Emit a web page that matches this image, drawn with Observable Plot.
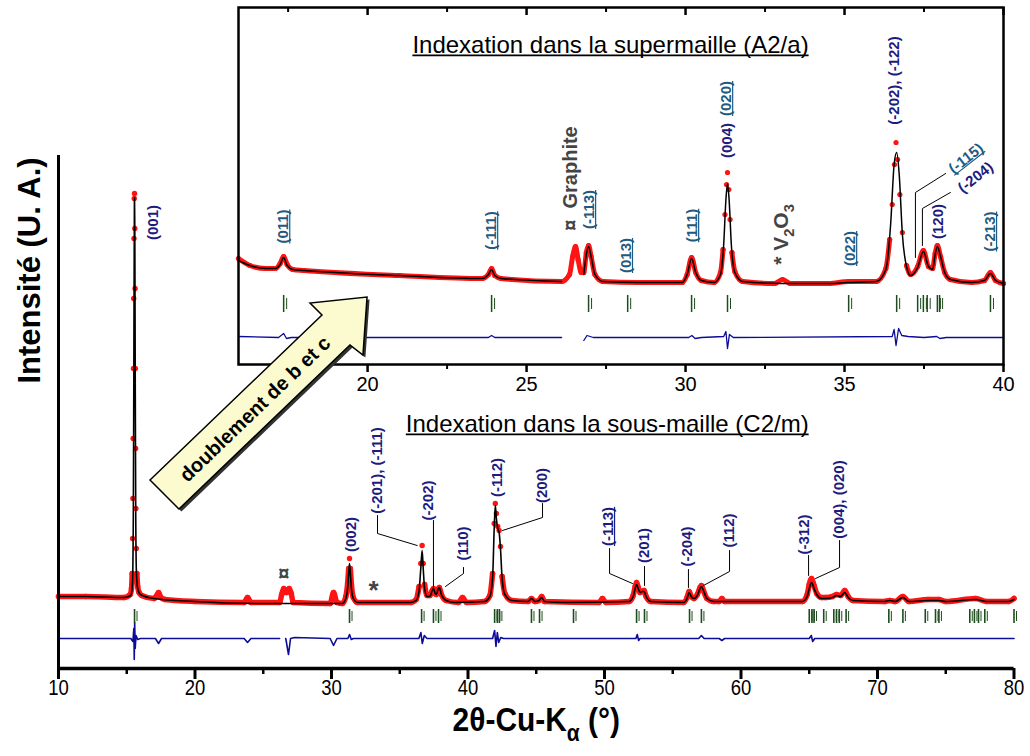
<!DOCTYPE html>
<html><head><meta charset="utf-8">
<script src="https://cdn.jsdelivr.net/npm/d3@7"></script>
<script src="https://cdn.jsdelivr.net/npm/@observablehq/plot@0.6"></script>
<style>
body{margin:0;background:#fff;}
#wrap{position:relative;width:1030px;height:756px;overflow:hidden;}
#wrap svg{position:absolute;left:0;top:0;}
</style></head><body><div id="wrap"></div>
<script>
// ---------- MAIN PATTERN (2θ, intensity a.u.) ----------
const mainObs = [[10,72],[12,72],[14.8,71],[15.25,74],[15.35,80],[15.4,95],[15.43,130],[15.45,170],[15.47,230],[15.49,300],[15.51,370],[15.53,430],[15.55,470],[15.57,475],[15.59,440],[15.61,380],[15.63,300],[15.65,220],[15.67,160],[15.7,120],[15.74,95],[15.8,82],[15.9,76],[16.1,73],[17,70],[17.15,72],[17.33,76],[17.5,71],[17.8,69],[20,67],[23.6,66],[23.85,71],[24.1,66],[26.2,66],[26.35,74],[26.5,80],[26.7,76],[26.9,80],[27.05,75],[27.2,66],[29.9,65],[30.15,76],[30.4,66],[30.8,65],[31.05,72],[31.18,85],[31.26,100],[31.32,110],[31.38,100],[31.46,84],[31.6,71],[31.9,66],[35.8,66],[36.2,69],[36.42,82],[36.54,105],[36.64,123],[36.72,105],[36.82,84],[37,73],[37.2,73],[37.38,78],[37.47,80],[37.6,75],[37.68,74],[37.8,79],[37.9,81],[38.05,74],[38.4,68],[39.3,66],[39.6,71],[39.9,66],[41.2,67],[41.6,73],[41.8,95],[41.92,145],[42,165],[42.08,155],[42.18,142],[42.28,138],[42.38,122],[42.5,92],[42.7,75],[43.2,68],[44.4,67],[44.65,70],[44.9,67],[45.2,68],[45.4,72],[45.6,67],[49.6,66],[49.85,70],[50.1,66],[51.8,67],[52.1,73],[52.25,82],[52.35,86],[52.47,81],[52.6,76],[52.75,77],[52.9,78],[53.05,72],[53.4,67],[55.8,66],[56.05,71],[56.2,77],[56.35,72],[56.55,70],[56.8,74],[57,81],[57.1,83],[57.25,78],[57.5,70],[58,67],[58.4,67],[58.6,70],[58.8,67],[64.5,67],[64.85,74],[65,84],[65.17,90],[65.35,83],[65.55,75],[65.9,71],[66.2,71],[66.7,72],[67,74],[67.3,73],[67.6,78],[67.85,72],[68.2,68],[70.5,67],[70.9,68],[71.3,67],[71.86,72],[72.3,67],[73.7,69],[74.5,69],[75,67],[77.2,70],[78,67],[79.6,67],[80,70]];
const mainCalc = [[10,72],[12,72],[14.8,71],[15.3,73],[15.42,85],[15.48,150],[15.52,300],[15.56,465],[15.57,471],[15.59,440],[15.62,300],[15.66,150],[15.71,95],[15.8,80],[16,74],[17,70],[20,67],[25,65],[30.8,65],[31.05,70],[31.18,80],[31.26,95],[31.32,105],[31.38,95],[31.46,80],[31.6,70],[31.9,66],[35.8,66],[36.2,68],[36.42,78],[36.54,100],[36.64,118],[36.72,100],[36.82,80],[37,72],[37.2,72],[37.38,78],[37.47,80],[37.6,75],[37.68,74],[37.8,79],[37.9,81],[38.05,74],[38.4,68],[39,66],[41.2,67],[41.6,72],[41.8,90],[41.92,140],[42,163],[42.08,150],[42.18,140],[42.28,136],[42.38,120],[42.5,90],[42.7,74],[43.2,68],[44.4,67],[44.65,70],[44.9,67],[45.2,68],[45.4,71],[45.6,67],[47,66],[51.8,67],[52.1,72],[52.25,80],[52.35,84],[52.47,80],[52.6,76],[52.75,77],[52.9,77],[53.05,72],[53.4,67],[55.8,66],[56.05,70],[56.2,76],[56.35,72],[56.55,70],[56.8,73],[57,80],[57.1,82],[57.25,78],[57.5,70],[58,67],[64.5,67],[64.85,72],[65,80],[65.17,86],[65.35,80],[65.55,74],[65.9,70],[66.2,70],[66.7,71],[67,73],[67.3,72],[67.6,76],[67.85,71],[68.2,68],[70.5,67],[70.9,68],[71.3,67],[71.86,71],[72.3,67],[73.7,68],[74.5,68],[75,67],[77.2,69],[78,67],[79.6,67],[80,69]];
const mainDiff = [[10,30],[15.3,30],[15.45,27],[15.52,40],[15.55,9],[15.58,46],[15.62,20],[15.68,33],[15.8,29],[16,30],[17.1,30],[17.33,25],[17.55,30],[23.6,30],[23.85,26],[24.1,30],[26.2,30],[26.3,null],[26.65,30],[26.85,14],[27,30],[27.3,31],[29.9,30],[30.15,23],[30.4,30],[31.2,30],[31.32,34],[31.45,29],[31.6,30],[36.4,30],[36.55,36],[36.65,25],[36.8,33],[37,30],[41.8,30],[41.95,38],[42.05,22],[42.15,36],[42.25,26],[42.4,31],[42.6,30],[52.3,30],[52.4,34],[52.5,28],[52.6,30],[56.9,30],[57.1,33],[57.3,30],[58.4,30],[58.6,28],[58.8,30],[65,30],[65.15,33],[65.25,27],[65.4,30],[80,30]];
const mainBragg = [15.57,31.32,36.6,37.47,37.84,41.95,42.15,42.3,44.65,45.24,47.73,52.35,52.93,56.23,57.1,65.0,65.2,65.35,66.06,66.8,67.0,67.2,67.7,70.83,71.86,73.5,74.25,74.5,76.76,77.1,77.4,77.86,80.0];
const mainHkl = [
  {t:"(001)", x:16.96, y:446},{t:"(002)", x:31.47, y:134},{t:"(-201), (-111)", x:33.37, y:198},
  {t:"(-202)", x:37.11, y:168},{t:"(110)", x:39.67, y:125},{t:"(-112)", x:42.16, y:191},
  {t:"(200)", x:45.46, y:183},{t:"(-113)", x:50.29, y:142},{t:"(201)", x:52.93, y:123},
  {t:"(-204)", x:56.08, y:122},{t:"(112)", x:59.16, y:138},{t:"(-312)", x:64.65, y:134},
  {t:"(004), (020)", x:67.22, y:169}];
const mainLeaders = [
  [[33.37,153],[33.37,135],[36.28,123]], [[37.47,148],[37.47,81]], [[39.67,101],[39.67,95],[38.35,82]],
  [[45.46,165],[45.46,151],[42.53,138]], [[50.37,120],[50.37,95],[52.05,85]], [[52.93,102],[52.93,83]],
  [[56.15,99],[56.15,81]], [[59.16,118],[59.16,97],[57.25,83]], [[64.95,113],[64.95,93]],
  [[67.22,128],[67.22,101],[65.46,90]]];
const mainTicksMajor = [10,20,30,40,50,60,70,80];
const mainTicksMinor = [15,25,35,45,55,65,75];
const arrowShape = [[16.74,188],[29.34,353],[28.46,365],[32.64,371],[32.34,313],[31.39,323],[18.86,159]];

// ---------- INSET PATTERN ----------
const insetObs = [[15.94,106],[16.3,99],[16.8,96],[17.1,96],[17.25,101],[17.36,108],[17.47,100],[17.65,95],[18,94],[21,89],[23.6,86],[23.8,90],[23.9,96],[24,89],[24.2,86],[26.1,83],[26.35,90],[26.45,108],[26.54,118],[26.62,105],[26.72,92],[26.8,92],[26.88,112],[26.95,119],[27.03,108],[27.15,90],[27.4,83],[28.5,82],[29.9,82],[30.05,90],[30.19,107],[30.32,92],[30.5,84],[30.9,82],[31.1,92],[31.18,115],[31.24,150],[31.29,180],[31.32,192],[31.36,175],[31.4,145],[31.46,112],[31.55,93],[31.8,83],[32.8,81],[33.05,85],[33.3,81],[34.5,81],[35.13,83],[36,83],[36.3,96],[36.42,125],[36.5,160],[36.57,200],[36.62,222],[36.67,205],[36.74,170],[36.82,132],[36.95,99],[37.08,90],[37.3,98],[37.48,114],[37.64,98],[37.77,96],[37.85,111],[37.92,119],[38.02,108],[38.15,92],[38.33,85],[39,82],[39.4,84],[39.59,92],[39.75,84],[40,81]];
const insetCalc = [[15.94,104],[16.3,99],[16.8,96],[17.1,96],[17.25,100],[17.36,107],[17.47,99],[17.65,95],[18,94],[21,89],[23.6,86],[23.8,90],[23.9,95],[24,89],[24.2,86],[26.1,83],[26.4,null],[26.8,90],[26.88,110],[26.95,118],[27.03,108],[27.15,90],[27.4,83],[28.5,82],[29.9,82],[30.05,90],[30.19,106],[30.32,92],[30.5,84],[30.9,82],[31.1,90],[31.2,120],[31.27,165],[31.32,181],[31.37,165],[31.44,120],[31.55,92],[31.8,83],[33,81],[34.5,81],[35.1,82],[36,83],[36.3,95],[36.45,140],[36.56,200],[36.64,212],[36.72,190],[36.82,130],[36.95,98],[37.08,89],[37.3,97],[37.48,113],[37.64,98],[37.77,95],[37.85,110],[37.92,118],[38.02,108],[38.15,92],[38.33,85],[39,82],[39.4,84],[39.59,91],[39.75,84],[40,81]];
const insetDiff = [[15.94,28],[17.2,27],[17.36,31],[17.45,26],[17.6,27],[23.8,27],[23.9,29],[24,27],[26.1,27],[26.4,null],[26.8,24],[26.9,29],[27.1,27],[30.1,27],[30.2,29],[30.3,26],[30.5,27],[31.2,28],[31.27,33],[31.32,16],[31.38,30],[31.5,27],[36.5,28],[36.56,35],[36.62,19],[36.7,36],[36.8,29],[37,28],[37.5,27],[37.9,28],[38,26],[38.2,27],[40,27]];
const insetBragg = [17.36,23.9,26.95,28.18,30.19,31.32,35.13,36.64,37.3,37.48,37.6,37.92,37.99,39.59];
const insetHklA = [ // sub-cell reflections (navy)
  {t:"(004)", x:31.32, y:224},{t:"(-202), (-122)", x:36.55, y:284},{t:"(120)", x:37.95, y:143}];
const insetHklB = [ // supercell reflections (underlined)
  {t:"(011)", x:17.36, y:138},{t:"(-111)", x:23.9, y:134},{t:"(-113)", x:26.98, y:155},
  {t:"(013)", x:28.14, y:109},{t:"(111)", x:30.22, y:139},{t:"(020)", x:31.29, y:266},
  {t:"(022)", x:35.19, y:116},{t:"(-213)", x:39.59, y:133}];
const insetTilted = [{t:"(-115)", x:38.82, y:206, ul:true},{t:"(-204)", x:39.12, y:187, ul:false}];
const insetLeaders = [[[37.23,107],[37.23,172],[38.18,191]], [[37.45,119],[37.45,156],[38.33,172]]];
const insetTicksMajor = [20,25,30,35,40];
const insetTicksMinor = [17.5,22.5,27.5,32.5,37.5];
const mainTitle = "Indexation dans la sous-maille (C2/m)";
const insetTitle = "Indexation dans la supermaille (A2/a)";
const xTitle = "2θ-Cu-K_α (°)";

// ---------- drawing ----------
const F = "'Liberation Sans', Arial, sans-serif";
const NAVY = "#1c1c80", TEAL = "#1f5a80", RED = "#ff1414", GREEN = "#1d4d1d", BLUE = "#0c0c98", GRAY = "#444";
const P = a => a.map(([x, y]) => ({x, y}));
// the red band is only drawn under a height; above it the observed points show as dots
const band = (a, top) => a.map(([x, y]) => ({x, y: y > top ? null : y}));
const L = a => a.flatMap((line, i) => line.map(([x, y]) => ({id: i, x, y})));

const main = Plot.plot({
  width: 1030, height: 756,
  marginLeft: 58, marginRight: 16.5, marginTop: 155, marginBottom: 88,
  x: {domain: [10, 80], axis: null},
  y: {domain: [0, 513], axis: null},
  style: {fontFamily: F, background: "transparent", overflow: "visible"},
  marks: [
    Plot.line(band(mainObs, 100), {x: "x", y: "y", stroke: RED, strokeWidth: 5.5, curve: "monotone-x"}),
    Plot.dot(P(mainObs), {x: "x", y: "y", r: 2.7, fill: RED}),
    Plot.line(P(mainCalc), {x: "x", y: "y", stroke: "#000", strokeWidth: 1.6, curve: "monotone-x"}),
    Plot.line(P(mainDiff), {x: "x", y: "y", stroke: BLUE, strokeWidth: 1.6}),
    Plot.ruleX(mainBragg, {x: d => d, y1: 45, y2: 59, stroke: GREEN, strokeWidth: 1.6}),
    Plot.ruleX(mainBragg, {x: d => d, y1: 47, y2: 57, stroke: GREEN, strokeWidth: 1, dx: 2.5}),
    Plot.line(L(mainLeaders), {x: "x", y: "y", z: "id", stroke: "#000", strokeWidth: 1}),
    Plot.text(mainHkl, {x: "x", y: "y", text: "t", rotate: -90, fill: NAVY, fontWeight: "bold", fontSize: 15}),
    Plot.text(["*"], {x: 33.08, y: 78, text: d => d, fill: GRAY, fontWeight: "bold", fontSize: 26}),
    Plot.text(["¤"], {x: 26.5, y: 95, text: d => d, fill: GRAY, fontWeight: "bold", fontSize: 20}),
    Plot.text([mainTitle], {x: 50.2, y: 244, text: d => d, fontSize: 24}),
    Plot.ruleY([0], {stroke: "#000", strokeWidth: 3.5}),
    Plot.ruleX([10], {y1: 0, y2: 513, stroke: "#000", strokeWidth: 3}),
    Plot.ruleX(mainTicksMajor, {x: d => d, y1: 0, y2: -11, stroke: "#000", strokeWidth: 3}),
    Plot.ruleX(mainTicksMinor, {x: d => d, y1: 0, y2: -6, stroke: "#000", strokeWidth: 2.5}),
    Plot.text(mainTicksMajor, {x: d => d, y: -19, text: d => String(d), fontSize: 22}),
    Plot.text([xTitle], {x: 45, y: -52, text: d => d, fontSize: 34, fontWeight: "bold"}),
    Plot.text(["Intensité (U. A.)"], {x: 7.95, y: 398, text: d => d, rotate: -90, fontSize: 31, fontWeight: "bold"})
  ]
});

const inset = Plot.plot({
  width: 1030, height: 400,
  marginLeft: 238, marginRight: 27, marginTop: 7, marginBottom: 36,
  x: {domain: [15.94, 40], axis: null},
  y: {domain: [0, 357], axis: null},
  style: {fontFamily: F, background: "transparent", overflow: "visible"},
  marks: [
    Plot.frame({fill: "#fff", stroke: "none"}),
    Plot.line(band(insetObs, 125), {x: "x", y: "y", stroke: RED, strokeWidth: 5, curve: "monotone-x"}),
    Plot.dot(P(insetObs), {x: "x", y: "y", r: 2.6, fill: RED}),
    Plot.line(P(insetCalc), {x: "x", y: "y", stroke: "#000", strokeWidth: 1.5, curve: "monotone-x"}),
    Plot.line(P(insetDiff), {x: "x", y: "y", stroke: BLUE, strokeWidth: 1.3}),
    Plot.ruleX(insetBragg, {x: d => d, y1: 52, y2: 69, stroke: GREEN, strokeWidth: 1.5}),
    Plot.ruleX(insetBragg, {x: d => d, y1: 55, y2: 66, stroke: GREEN, strokeWidth: 1, dx: 3}),
    Plot.line(L(insetLeaders), {x: "x", y: "y", z: "id", stroke: "#000", strokeWidth: 1}),
    Plot.text(insetHklA, {x: "x", y: "y", text: "t", rotate: -90, fill: NAVY, fontWeight: "bold", fontSize: 15}),
    Plot.text(insetHklB, {x: "x", y: "y", text: "t", rotate: -90, fill: TEAL, fontWeight: "bold", fontSize: 15}),
    Plot.text(insetTilted.filter(d => d.ul), {x: "x", y: "y", text: "t", rotate: -38, fill: TEAL, fontWeight: "bold", fontSize: 15}),
    Plot.text(insetTilted.filter(d => !d.ul), {x: "x", y: "y", text: "t", rotate: -38, fill: NAVY, fontWeight: "bold", fontSize: 15}),
    Plot.text(["¤  Graphite"], {x: 26.38, y: 186, text: d => d, rotate: -90, fill: GRAY, fontWeight: "bold", fontSize: 20}),
    Plot.text(["* V_2O_3"], {x: 33.02, y: 130, text: d => d, rotate: -90, fill: GRAY, fontWeight: "bold", fontSize: 21}),
    Plot.text([insetTitle], {x: 27.64, y: 319, text: d => d, fontSize: 24}),
    Plot.frame({stroke: "#000", strokeWidth: 2.5}),
    Plot.ruleX(insetTicksMajor, {x: d => d, y1: 357, y2: 349, stroke: "#000", strokeWidth: 2.5}),
    Plot.ruleX(insetTicksMinor, {x: d => d, y1: 357, y2: 352, stroke: "#000", strokeWidth: 2}),
    Plot.ruleX(insetTicksMajor, {x: d => d, y1: 0, y2: -8, stroke: "#000", strokeWidth: 2.5}),
    Plot.ruleX(insetTicksMinor, {x: d => d, y1: 0, y2: -5, stroke: "#000", strokeWidth: 2}),
    Plot.text(insetTicksMajor, {x: d => d, y: -20, text: d => String(d), fontSize: 20})
  ]
});

const underlined = new Set([mainTitle, insetTitle, "(-115)", ...insetHklB.map(d => d.t)]);
const narrowMain = new Map([[xTitle, 0.88], ...mainTicksMajor.map(t => [String(t), 0.84])]);

function subscripts(svg) {
  d3.select(svg).selectAll("text").each(function() {
    const t = this.textContent;
    if (!t.includes("_")) return;
    const parts = t.split(/_(.)/);
    this.textContent = "";
    let shifted = false;
    parts.forEach((p, i) => {
      if (!p) return;
      const ts = d3.select(this).append("tspan").text(p);
      if (i % 2 === 1) { ts.attr("font-size", "70%").attr("dy", "0.4em"); shifted = true; }
      else if (shifted) { ts.attr("dy", "-0.28em"); shifted = false; }
    });
  });
}
function decorate(svg, narrowMap) {
  const texts = Array.from(svg.querySelectorAll("text"));
  texts.forEach(el => {
    const key = el.__key ?? el.textContent;
    if (underlined.has(key)) {
      const b = el.getBBox();
      const cs = getComputedStyle(el);
      const fs = parseFloat(cs.fontSize);
      const ln = document.createElementNS("http://www.w3.org/2000/svg", "line");
      const yy = b.y + b.height * 0.9;
      ln.setAttribute("x1", b.x); ln.setAttribute("x2", b.x + b.width);
      ln.setAttribute("y1", yy); ln.setAttribute("y2", yy);
      ln.setAttribute("stroke", cs.fill); ln.setAttribute("stroke-width", Math.max(1.2, fs / 14));
      const tr = el.getAttribute("transform"); if (tr) ln.setAttribute("transform", tr);
      el.parentNode.appendChild(ln);
    }
    if (narrowMap && narrowMap.has(key)) {
      const k = narrowMap.get(key);
      const b = el.getBBox();
      const cx = b.x + b.width / 2;
      const tr = el.getAttribute("transform") || "";
      el.setAttribute("transform", `${tr} translate(${cx},0) scale(${k},1) translate(${-cx},0)`);
    }
  });
}
// remember the original strings before subscripts are split into tspans
[main, inset].forEach(svg => svg.querySelectorAll("text").forEach(el => { el.__key = el.textContent; }));
subscripts(main); subscripts(inset);

const wrap = document.getElementById("wrap");
wrap.appendChild(main);
wrap.appendChild(inset);
decorate(main, narrowMain); decorate(inset, null);

// arrow overlay drawn with the main chart's scales
const sx = main.scale("x"), sy = main.scale("y");
const ov = d3.create("svg").attr("width", 1030).attr("height", 756);
const pts = arrowShape.map(([x, y]) => [sx.apply(x), sy.apply(y)]);
const line = d3.line();
ov.append("path").attr("d", line(pts) + "Z").attr("transform", "translate(2.5,2.5)").attr("fill", "#333");
ov.append("path").attr("d", line(pts) + "Z").attr("fill", "#fbfbcf").attr("stroke", "#000").attr("stroke-width", 1.5);
const tx = sx.apply(24.51), ty = sy.apply(258);
ov.append("text").attr("x", tx).attr("y", ty).attr("transform", `rotate(-43.8,${tx},${ty})`)
  .attr("text-anchor", "middle").attr("dominant-baseline", "middle")
  .attr("font-family", F).attr("font-weight", "bold").attr("font-size", 20)
  .text("doublement de b et c");
wrap.appendChild(ov.node());
</script></body></html>
